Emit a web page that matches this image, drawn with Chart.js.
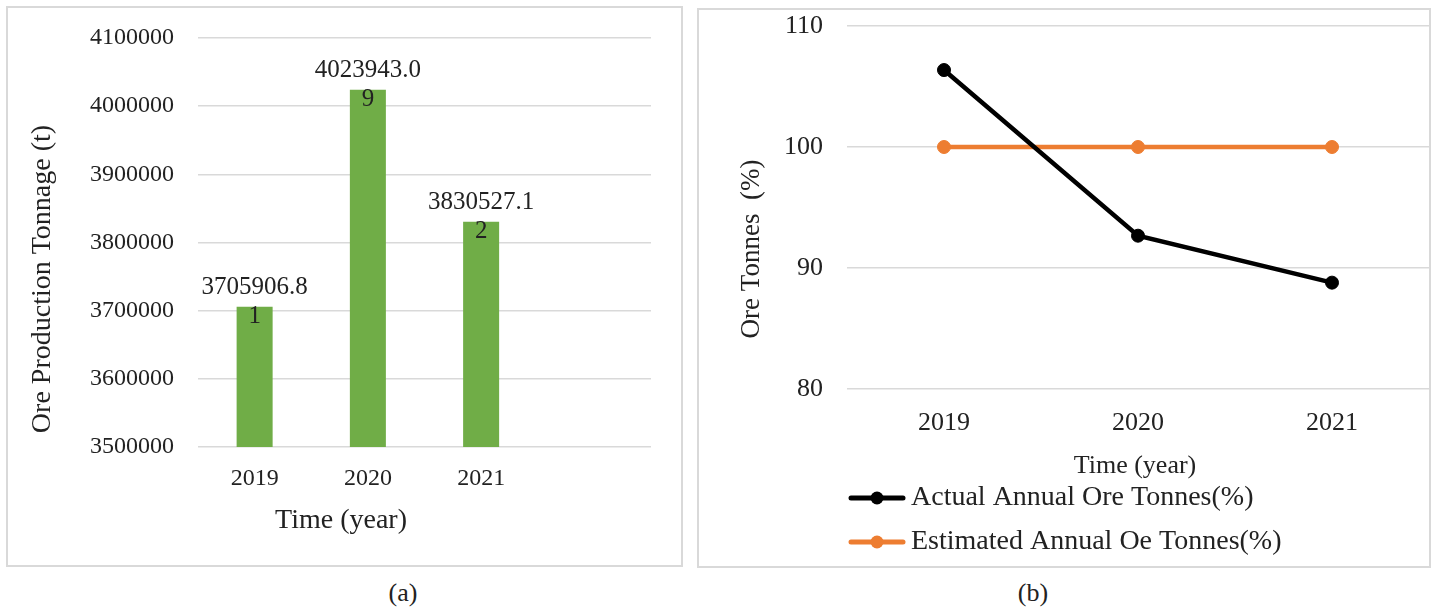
<!DOCTYPE html>
<html>
<head>
<meta charset="utf-8">
<script src="https://cdn.jsdelivr.net/npm/chart.js@4.4.0/dist/chart.umd.min.js"></script>
<style>
  html, body { margin: 0; padding: 0; background: #fff; width: 1438px; height: 609px; overflow: hidden;
    font-family: 'Liberation Serif', 'Times New Roman', serif; }
  .frame { position: absolute; border: 2px solid #d9d9d9; box-sizing: border-box; }
  .box { position: absolute; }
  .cap { position: absolute; font-size: 26px; color: #222; transform: translateX(-50%); line-height: 1; }
</style>
</head>
<body>
<div class="frame" style="left:6px;top:6px;width:677px;height:561px"></div>
<div class="frame" style="left:697px;top:8px;width:734px;height:560px"></div>
<div class="box" style="left:0;top:0;width:690px;height:570px"><canvas id="prod"></canvas></div>
<div class="box" style="left:697px;top:0;width:741px;height:570px"><canvas id="pct"></canvas></div>
<div class="cap" style="left:403px;top:580px">(a)</div>
<div class="cap" style="left:1033px;top:580px">(b)</div>

<script>
// ---- data ----
const prodCategories = ['2019', '2020', '2021', ''];
const prodTonnes = [3705906.81, 4023943.09, 3830527.12, null];
const prodAxisMin = 3500000;
const prodAxisMax = 4100000;
const prodAxisStep = 100000;

const years = ['2019', '2020', '2021'];
const actualPct = [106.36, 92.67, 88.79];
const estimatedPct = [100, 100, 100];
const pctAxisMin = 80;
const pctAxisMax = 110;
const pctAxisStep = 10;

// ---- styling ----
const FONT = "'Liberation Serif', 'Times New Roman', serif";
const TEXT = '#222';
const GRID = '#d9d9d9';
const GREEN = '#70ad47';
const ORANGE = '#ed7d31';
const BLACK = '#000000';

Chart.defaults.font.family = FONT;
Chart.defaults.color = TEXT;
Chart.defaults.animation = false;

// free-standing axis captions (rotated or offset from the plot centre)
const axisCaptions = {
  id: 'axisCaptions',
  afterDraw(chart, args, opts) {
    const ctx = chart.ctx;
    (opts.items || []).forEach(it => {
      ctx.save();
      ctx.font = `${it.size}px ${FONT}`;
      ctx.fillStyle = TEXT;
      ctx.textAlign = 'center';
      ctx.textBaseline = 'middle';
      ctx.translate(it.x, it.y);
      if (it.rot) ctx.rotate(it.rot * Math.PI / 180);
      ctx.fillText(it.text, 0, 0);
      ctx.restore();
    });
  }
};

// wrap a label character by character once it exceeds maxWidth
function wrapChars(ctx, str, maxWidth) {
  const lines = [];
  let cur = '';
  for (const ch of str) {
    if (cur && ctx.measureText(cur + ch).width > maxWidth) { lines.push(cur); cur = ch; }
    else cur += ch;
  }
  if (cur) lines.push(cur);
  return lines;
}

// value labels sitting on the bar ends
const barValueLabels = {
  id: 'barValueLabels',
  afterDatasetsDraw(chart, args, opts) {
    const ctx = chart.ctx;
    const meta = chart.getDatasetMeta(0);
    const values = chart.data.datasets[0].data;
    ctx.save();
    ctx.font = `${opts.size}px ${FONT}`;
    ctx.fillStyle = TEXT;
    ctx.textAlign = 'center';
    ctx.textBaseline = 'middle';
    meta.data.forEach((bar, i) => {
      const v = values[i];
      if (v == null) return;
      const lines = wrapChars(ctx, String(v), opts.maxWidth);
      lines.forEach((ln, k) => ctx.fillText(ln, bar.x, bar.y + opts.firstOffset + k * opts.lineGap));
    });
    ctx.restore();
  }
};

// keep the value axis from reserving extra room above/below the plot
function fixValueAxis(width) {
  return s => { s.width = width; s.paddingTop = 0; s.paddingBottom = 0; };
}

// ---- (a) ore production tonnage ----
new Chart(document.getElementById('prod'), {
  type: 'bar',
  data: {
    labels: prodCategories,
    datasets: [{
      data: prodTonnes,
      backgroundColor: GREEN,
      borderWidth: 0,
      barPercentage: 0.318,
      categoryPercentage: 1
    }]
  },
  plugins: [barValueLabels, axisCaptions],
  options: {
    responsive: true,
    maintainAspectRatio: false,
    layout: { padding: { left: 0, right: 39, top: 38, bottom: 63 } },
    plugins: {
      legend: { display: false },
      tooltip: { enabled: false },
      barValueLabels: { size: 25, maxWidth: 110, firstOffset: -19, lineGap: 29 },
      axisCaptions: {
        items: [
          { text: 'Ore Production Tonnage (t)', x: 43, y: 279, rot: -90, size: 28 },
          { text: 'Time (year)', x: 341, y: 521, size: 28 }
        ]
      }
    },
    scales: {
      x: {
        grid: { display: false, drawTicks: false },
        border: { display: false },
        ticks: { font: { size: 24 }, color: TEXT, padding: 17 },
        afterFit(s) { s.height = 60; }
      },
      y: {
        min: prodAxisMin,
        max: prodAxisMax,
        grid: { color: GRID, lineWidth: 1.5, drawTicks: false },
        border: { display: false },
        ticks: { stepSize: prodAxisStep, font: { size: 24 }, color: TEXT, padding: 24,
                 callback: v => String(v) },
        afterFit: fixValueAxis(198)
      }
    }
  }
});

// ---- (b) ore tonnes percentage ----
function lineMark(color) {
  const c = document.createElement('canvas');
  c.width = 64; c.height = 16;
  const g = c.getContext('2d');
  g.strokeStyle = color; g.lineWidth = 5; g.lineCap = 'round';
  g.beginPath(); g.moveTo(3, 8); g.lineTo(55, 8); g.stroke();
  g.fillStyle = color;
  g.beginPath(); g.arc(29, 8, 6.5, 0, Math.PI * 2); g.fill();
  return c;
}
const legendMarks = [lineMark(BLACK), lineMark(ORANGE)];

new Chart(document.getElementById('pct'), {
  type: 'line',
  data: {
    labels: years,
    datasets: [
      {
        label: 'Actual Annual Ore Tonnes(%)',
        data: actualPct,
        borderColor: BLACK, backgroundColor: BLACK,
        borderWidth: 4.5, pointRadius: 6.5, pointBorderWidth: 1, tension: 0
      },
      {
        label: 'Estimated Annual Oe Tonnes(%)',
        data: estimatedPct,
        borderColor: ORANGE, backgroundColor: ORANGE,
        borderWidth: 4.5, pointRadius: 6.5, pointBorderWidth: 1, tension: 0
      }
    ]
  },
  plugins: [axisCaptions],
  options: {
    responsive: true,
    maintainAspectRatio: false,
    layout: { padding: { left: 0, right: 9, top: 26, bottom: 4 } },
    plugins: {
      tooltip: { enabled: false },
      legend: {
        position: 'bottom',
        align: 'start',
        fullSize: false,
        labels: {
          usePointStyle: true,
          pointStyleWidth: 34,
          padding: 16,
          color: TEXT,
          font: { family: FONT, size: 28 },
          generateLabels(chart) {
            const items = Chart.defaults.plugins.legend.labels.generateLabels(chart);
            items.forEach((it, i) => { it.pointStyle = legendMarks[i]; });
            return items;
          }
        }
      },
      axisCaptions: {
        items: [
          { text: 'Ore Tonnes  (%)', x: 55, y: 249, rot: -90, size: 27 },
          { text: 'Time (year)', x: 438, y: 466, size: 26 }
        ]
      }
    },
    scales: {
      x: {
        offset: true,
        grid: { display: false, drawTicks: false },
        border: { display: false },
        ticks: { font: { size: 26 }, color: TEXT, padding: 19 },
        afterFit(s) { s.height = 79; }
      },
      y: {
        min: pctAxisMin,
        max: pctAxisMax,
        grid: { color: GRID, lineWidth: 1.5, drawTicks: false },
        border: { display: false },
        ticks: { stepSize: pctAxisStep, font: { size: 26 }, color: TEXT, padding: 24 },
        afterFit: fixValueAxis(150)
      }
    }
  }
});
</script>
</body>
</html>
